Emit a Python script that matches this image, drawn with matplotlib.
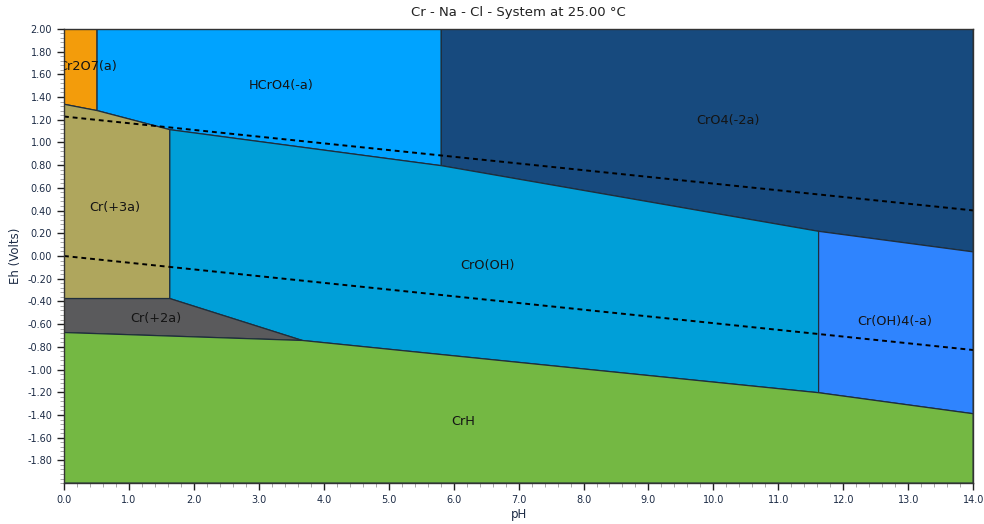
import matplotlib
matplotlib.use('Agg')
import matplotlib.pyplot as plt
from matplotlib.patches import Polygon
from matplotlib.ticker import MultipleLocator, FormatStrFormatter

# Boundary vertices (pH, Eh) of each stability field
cr2o7_pts = [(0, 2.0), (0.51, 2.0), (0.51, 1.28), (0, 1.336)]
hcro4_pts = [(0.51, 2.0), (5.81, 2.0), (5.81, 0.795), (1.63, 1.112), (0.51, 1.28)]
cro4_pts = [(5.81, 2.0), (14, 2.0), (14, 0.036), (11.62, 0.217), (5.81, 0.795)]
cr3_pts = [(0, 1.336), (0.51, 1.28), (1.63, 1.112), (1.63, -0.375), (0, -0.375)]
crooh_pts = [(1.63, 1.112), (5.81, 0.795), (11.62, 0.217), (11.62, -1.204),
             (3.67, -0.744), (1.63, -0.375)]
croh4_pts = [(11.62, 0.217), (14, 0.036), (14, -1.389), (11.62, -1.204)]
cr2_pts = [(0, -0.375), (1.63, -0.375), (3.67, -0.744), (0, -0.674)]
crh_pts = [(0, -0.674), (3.67, -0.744), (11.62, -1.204), (14, -1.389),
           (14, -2.0), (0, -2.0)]

regions = [
    ("Cr2O7(a)", cr2o7_pts, "#f39c0b", (0.36, 1.666)),
    ("HCrO4(-a)", hcro4_pts, "#00a3ff", (3.34, 1.50)),
    ("CrO4(-2a)", cro4_pts, "#174a7e", (10.23, 1.19)),
    ("Cr(+3a)", cr3_pts, "#afa65d", (0.79, 0.43)),
    ("CrO(OH)", crooh_pts, "#009fd8", (6.52, -0.08)),
    ("Cr(OH)4(-a)", croh4_pts, "#2f84fe", (12.79, -0.58)),
    ("Cr(+2a)", cr2_pts, "#5a5a5c", (1.42, -0.55)),
    ("CrH", crh_pts, "#74b843", (6.15, -1.46)),
]

# water stability lines
water_ph = [0, 14]
o2_line = [1.228, 0.401]
h2_line = [0.0, -0.828]

fig = plt.figure(figsize=(9.84, 5.24), dpi=100)
ax = fig.add_axes([0.065, 0.078, 0.924, 0.867])

for name, pts, color, pos in regions:
    ax.add_patch(Polygon(pts, closed=True, facecolor=color,
                         edgecolor="#1f2e3c", linewidth=0.9))
    ax.text(pos[0], pos[1], name, ha="center", va="center",
            fontsize=9.3, color="#141414", clip_on=True)

ax.plot(water_ph, o2_line, color="black", linestyle=(0, (2.5, 2)), linewidth=1.4)
ax.plot(water_ph, h2_line, color="black", linestyle=(0, (2.5, 2)), linewidth=1.4)

ax.set_xlim(0, 14)
ax.set_ylim(-2, 2)
ax.xaxis.set_major_locator(MultipleLocator(1.0))
ax.xaxis.set_minor_locator(MultipleLocator(0.2))
ax.yaxis.set_major_locator(MultipleLocator(0.2))
ax.yaxis.set_minor_locator(MultipleLocator(0.04))
ax.xaxis.set_major_formatter(FormatStrFormatter("%.1f"))
ax.yaxis.set_major_formatter(FormatStrFormatter("%.2f"))

yticks = [t for t in ax.get_yticks() if -1.95 < t <= 2.0]
ax.set_yticks(yticks)

tick_color = "#1c2b45"
ax.tick_params(axis="both", which="major", length=5, width=1, colors="#222222",
               labelsize=7, labelcolor=tick_color)
ax.tick_params(axis="both", which="minor", length=3, width=0.6, colors="#999999")

for s in ax.spines.values():
    s.set_color("#333333")
    s.set_linewidth(1.0)

ax.set_xlabel("pH", fontsize=8.5, color=tick_color, labelpad=2)
ax.set_ylabel("Eh (Volts)", fontsize=8.5, color=tick_color, labelpad=4)
ax.set_title("Cr - Na - Cl - System at 25.00 \u00b0C", fontsize=9.5,
             color="#222222", pad=9)

fig.savefig("out.png", dpi=100)
